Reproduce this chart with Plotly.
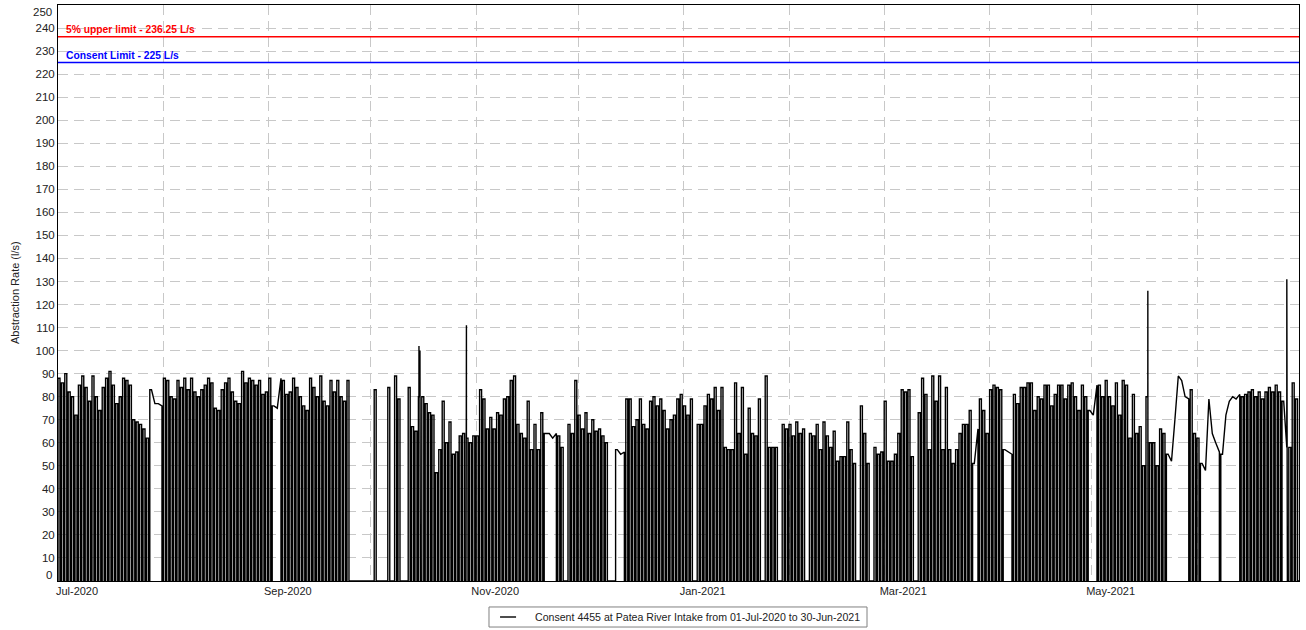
import pandas as pd
import plotly.graph_objects as go

# Reporting period for the abstraction record
period_start = "2020-07-01"
period_end = "2021-07-01"

# Daily pumping rate (l/s) while the intake pump was running; 0 = pump off all day
rate_jul_2020 = [88, 86, 90, 82, 80, 72, 85, 89, 84, 78, 89, 80, 74, 84, 88, 91,
                 85, 77, 80, 88, 87, 85, 70, 69, 68, 66, 62, 83, 77, 77, 76]
rate_aug_2020 = [88, 87, 80, 79, 87, 84, 88, 83, 88, 82, 80, 83, 85, 88, 86, 75,
                 74, 83, 86, 88, 82, 78, 77, 91, 86, 88, 87, 85, 87, 81, 82]
rate_sep_2020 = [88, 76, 75, 88, 87, 81, 82, 88, 84, 80, 76, 74, 88, 84, 80, 89,
                 78, 76, 87, 82, 87, 80, 78, 87, 0, 0, 0, 0, 0, 0]
rate_oct_2020 = [0, 83, 0, 0, 0, 84, 0, 89, 79, 0, 0, 84, 67, 65, 80, 80,
                 77, 73, 72, 47, 57, 78, 60, 69, 55, 56, 63, 64, 62, 60, 63]
rate_nov_2020 = [63, 83, 79, 66, 71, 66, 73, 72, 79, 80, 87, 89, 68, 64, 62,
                 78, 57, 68, 57, 73, 64, 64, 62, 64, 63, 58, 0, 68, 64, 87]
rate_dec_2020 = [72, 66, 73, 64, 70, 65, 66, 63, 60, 0, 0, 57, 55, 56, 79, 79,
                 67, 70, 79, 68, 66, 78, 80, 76, 79, 74, 66, 70, 72, 79, 81]
rate_jan_2021 = [76, 72, 79, 0, 68, 68, 76, 81, 79, 84, 74, 84, 58, 57, 57, 86,
                 64, 84, 55, 75, 64, 63, 79, 0, 89, 58, 58, 58, 0, 68, 66]
rate_feb_2021 = [68, 63, 69, 64, 66, 0, 64, 63, 68, 57, 69, 63, 58, 65,
                 52, 54, 54, 69, 57, 51, 0, 76, 64, 51, 0, 58, 55, 56]
rate_mar_2021 = [78, 52, 52, 55, 64, 83, 82, 83, 54, 0, 73, 88, 81, 57, 89, 78,
                 89, 57, 84, 57, 51, 57, 64, 68, 68, 74, 51, 66, 79, 74, 64]
rate_apr_2021 = [83, 85, 84, 83, 57, 56, 55, 81, 77, 84, 84, 86, 86, 74, 80,
                 79, 85, 85, 76, 81, 85, 85, 79, 85, 86, 80, 74, 85, 80, 74]
rate_may_2021 = [72, 85, 85, 80, 87, 80, 76, 86, 72, 87, 85, 62, 81, 64, 67, 50,
                 80, 60, 60, 50, 66, 64, 55, 52, 70, 89, 87, 80, 79, 83, 64]
rate_jun_2021 = [62, 51, 48, 79, 64, 60, 56, 55, 72, 78, 80, 79, 81, 80, 81,
                 82, 83, 80, 82, 79, 82, 84, 82, 85, 82, 78, 58, 58, 86, 79]

# Periods when the pump ran around the clock without stopping
continuous_runs = [
    ("2020-07-28", "2020-07-30"),
    ("2020-09-02", "2020-09-03"),
    ("2020-11-21", "2020-11-23"),
    ("2020-12-12", "2020-12-13"),
    ("2021-03-27", "2021-03-27"),
    ("2021-04-05", "2021-04-06"),
    ("2021-04-30", "2021-05-01"),
    ("2021-05-23", "2021-05-28"),
    ("2021-06-02", "2021-06-06"),
    ("2021-06-08", "2021-06-12"),
    ("2021-06-26", "2021-06-26"),
]

# Short-lived peaks logged during a run (time, l/s)
spike_times = ["2020-10-15 04:00", "2020-10-15 11:00", "2020-10-29 03:00",
               "2021-05-17 13:00", "2021-06-27 10:00"]
spike_rates = [102, 100, 111, 126, 131]

# Typical length of a daily pumping cycle, hours
run_hours = 14

# Consent conditions
upper_limit = 236.25
consent_limit = 225

series_name = "Consent 4455 at Patea River Intake from 01-Jul-2020 to 30-Jun-2021"

# ---- assemble the stepped time series ----
monthly = [rate_jul_2020, rate_aug_2020, rate_sep_2020, rate_oct_2020,
           rate_nov_2020, rate_dec_2020, rate_jan_2021, rate_feb_2021,
           rate_mar_2021, rate_apr_2021, rate_may_2021, rate_jun_2021]
daily_rate = [r for month in monthly for r in month]
days = pd.date_range(period_start, periods=len(daily_rate), freq="D")

cont_days = set()
for a, b in continuous_runs:
    cont_days.update(pd.date_range(a, b, freq="D"))

spikes_by_day = {}
for ts, v in zip(spike_times, spike_rates):
    t = pd.Timestamp(ts)
    spikes_by_day.setdefault(t.normalize(), []).append((t, v))

xs, ys = [], []


def add(t, y):
    xs.append(t)
    ys.append(y)


running = False
blip = pd.Timedelta(minutes=8)
for day, r in zip(days, daily_rate):
    if r == 0:
        add(day, 0)
        running = False
        continue
    if not running:
        add(day, 0)
        add(day, r)
    inner = []
    for t, v in spikes_by_day.get(day, []):
        inner += [(t - blip, r), (t, v), (t + blip, r)]
    if day in cont_days:
        inner.append((day + pd.Timedelta(hours=12), r))
        inner.sort(key=lambda p: p[0])
        for t, y in inner:
            add(t, y)
        running = True
    else:
        end = day + pd.Timedelta(hours=run_hours)
        inner.sort(key=lambda p: p[0])
        for t, y in inner:
            add(t, y)
        add(end, r)
        add(end, 0)
        running = False
add(pd.Timestamp(period_end), 0)

fig = go.Figure()
fig.add_trace(go.Scatter(
    x=xs, y=ys, mode="lines", name=series_name,
    line=dict(color="black", width=1.4), showlegend=False,
    hoverinfo="skip",
))

FONT = "Arial, Liberation Sans, sans-serif"

# Consent limit lines
fig.add_shape(type="line", xref="paper", x0=0, x1=1, yref="y",
              y0=upper_limit, y1=upper_limit, line=dict(color="#ff0000", width=1.5))
fig.add_shape(type="line", xref="paper", x0=0, x1=1, yref="y",
              y0=consent_limit, y1=consent_limit, line=dict(color="#0000ff", width=1.5))
fig.add_annotation(xref="paper", x=0, xanchor="left", xshift=6,
                   yref="y", y=upper_limit, yanchor="bottom", yshift=0,
                   text=f"<b>5% upper limit - {upper_limit} L/s</b>", showarrow=False,
                   font=dict(color="#ff0000", size=10.3, family=FONT))
fig.add_annotation(xref="paper", x=0, xanchor="left", xshift=6,
                   yref="y", y=consent_limit, yanchor="bottom", yshift=0,
                   text=f"<b>Consent Limit - {consent_limit} L/s</b>", showarrow=False,
                   font=dict(color="#0000ff", size=10.3, family=FONT))

# Axes
month_ticks = pd.date_range(period_start, period_end, freq="MS")[:-1]
month_text = [t.strftime("%b-%Y") if i % 2 == 0 else "" for i, t in enumerate(month_ticks)]
y_ticks = list(range(0, 251, 10))
y_text = ["" if v in (0, 250) else str(v) for v in y_ticks]

grid = dict(showgrid=True, gridcolor="#c8c8c8", gridwidth=1, griddash="10px,6px")

fig.update_xaxes(
    type="date", range=[period_start, period_end],
    tickmode="array", tickvals=month_ticks, ticktext=month_text,
    ticks="", ticklabelshift=19, tickfont=dict(size=11, color="#222"),
    showline=True, linecolor="black", linewidth=1, mirror=True,
    zeroline=False, **grid,
)
fig.update_yaxes(
    range=[0, 250], tickmode="array", tickvals=y_ticks, ticktext=y_text,
    ticks="", tickfont=dict(size=11.5, color="#222"),
    showline=True, linecolor="black", linewidth=1, mirror=True,
    zeroline=False, **grid,
)

# End labels kept inside the frame
fig.add_annotation(xref="paper", x=0, xanchor="right", xshift=-4, yref="y", y=0,
                   yshift=6, text="0", showarrow=False,
                   font=dict(size=11.5, color="#222"))
fig.add_annotation(xref="paper", x=0, xanchor="right", xshift=-4, yref="y", y=250,
                   yshift=-7, text="250", showarrow=False,
                   font=dict(size=11.5, color="#222"))

# Axis title
fig.add_annotation(xref="paper", x=0, xshift=-43, xanchor="center",
                   yref="paper", y=0.5, yanchor="middle", textangle=-90,
                   text="Abstraction Rate (l/s)", showarrow=False,
                   font=dict(size=11, color="#222"))

# Legend box below the plot
fig.add_shape(type="rect", xref="paper", yref="paper",
              x0=0.3473, x1=0.6519, y0=-0.0799, y1=-0.0451,
              line=dict(color="#808080", width=1), fillcolor="white", layer="above")
fig.add_shape(type="line", xref="paper", yref="paper",
              x0=0.3562, x1=0.3691, y0=-0.0625, y1=-0.0625,
              line=dict(color="black", width=1.4), layer="above")
fig.add_annotation(xref="paper", yref="paper", x=0.3828, y=-0.0625,
                   xanchor="left", yanchor="middle", text=series_name,
                   showarrow=False, font=dict(size=10.6, color="#222"))

fig.update_layout(
    width=1306, height=630,
    margin=dict(l=58, r=7, t=5, b=49, autoexpand=False),
    paper_bgcolor="white", plot_bgcolor="white",
    font=dict(family=FONT, size=11, color="#222"),
    showlegend=False,
)

fig.write_html("out.html")
